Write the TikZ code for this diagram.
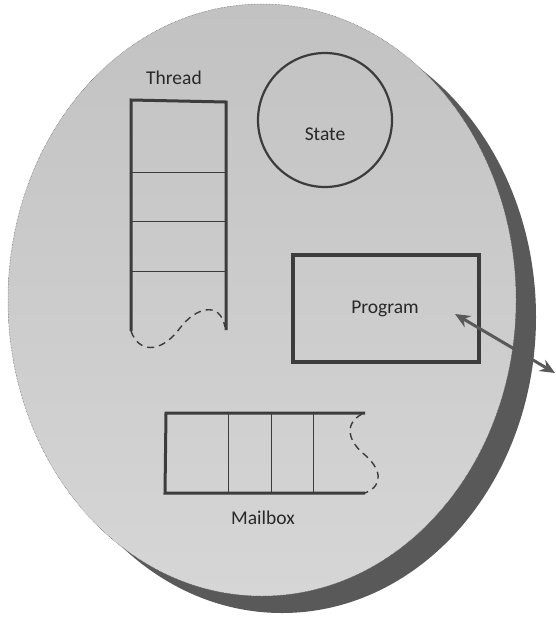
\documentclass[tikz,border=0pt]{standalone}
\usepackage{fontspec}
\setmainfont{Carlito}
\usetikzlibrary{arrows.meta}
\definecolor{shadowgray}{RGB}{89,89,89}
\definecolor{linegray}{RGB}{60,60,60}
\definecolor{textgray}{RGB}{40,40,40}
\definecolor{fillA}{RGB}{194,194,194}
\definecolor{fillB}{RGB}{214,214,214}
\tikzset{
  thickline/.style={draw=linegray, line width=3pt},
  thinline/.style={draw=linegray, line width=1pt},
  dashline/.style={draw=linegray, line width=1.4pt, dash pattern=on 7pt off 5pt},
  lbl/.style={text=textgray, font=\fontsize{19.5}{22}\selectfont, inner sep=0pt},
}
\begin{document}
\begin{tikzpicture}[x=1pt,y=-1pt]
\useasboundingbox (0,0) rectangle (555,618);
% shadow ellipse
\fill[shadowgray] (282,317) ellipse [x radius=254, y radius=296];
% main ellipse
\shade[top color=fillA, bottom color=fillB] (262,300) ellipse [x radius=254, y radius=296];
\draw[draw=gray!70!black, line width=0.5pt, densely dotted] (262,300) ellipse [x radius=254, y radius=296];

% Thread
\node[lbl] (threadlbl) at (174,78) {Thread};
\draw[thickline] (131,331) -- (131,100) -- (226,102) -- (226,330);
\draw[thinline] (131,172) -- (226,172);
\draw[thinline] (131,221) -- (226,221);
\draw[thinline] (131,271) -- (226,271);
\draw[dashline] (131,331) .. controls (138,352) and (160,355) .. (180,328)
  .. controls (195,308) and (220,300) .. (225,327);

% State
\node[circle, draw=linegray, line width=2.2pt, minimum size=134pt, inner sep=0pt] (state) at (325,120) {};
\node[lbl] (statelbl) at (325,134) {State};

% Program
\node[draw=linegray, line width=3.2pt, minimum width=186pt, minimum height=107pt, inner sep=0pt] (program) at (386,308.5) {};
\node[lbl] (proglbl) at (385,309) {Program};
\coordinate (progpt) at (455,314);
\coordinate (outpt) at (555,373);
\draw[draw=shadowgray, line width=3pt, {Stealth[length=15pt,width=13pt]}-{Stealth[length=15pt,width=13pt]}] (progpt) -- (outpt);

% Mailbox
\draw[thickline] (365,413) -- (166,413) -- (165,493) -- (365,493);
\draw[thinline] (228,413) -- (228,493);
\draw[thinline] (271,413) -- (271,493);
\draw[thinline] (313,413) -- (313,493);
\draw[dashline] (362,414) .. controls (342,425) and (350,443) .. (365,455)
  .. controls (380,468) and (385,485) .. (365,493);
\node[lbl] (mailboxlbl) at (263,518) {Mailbox};
\end{tikzpicture}
\end{document}
